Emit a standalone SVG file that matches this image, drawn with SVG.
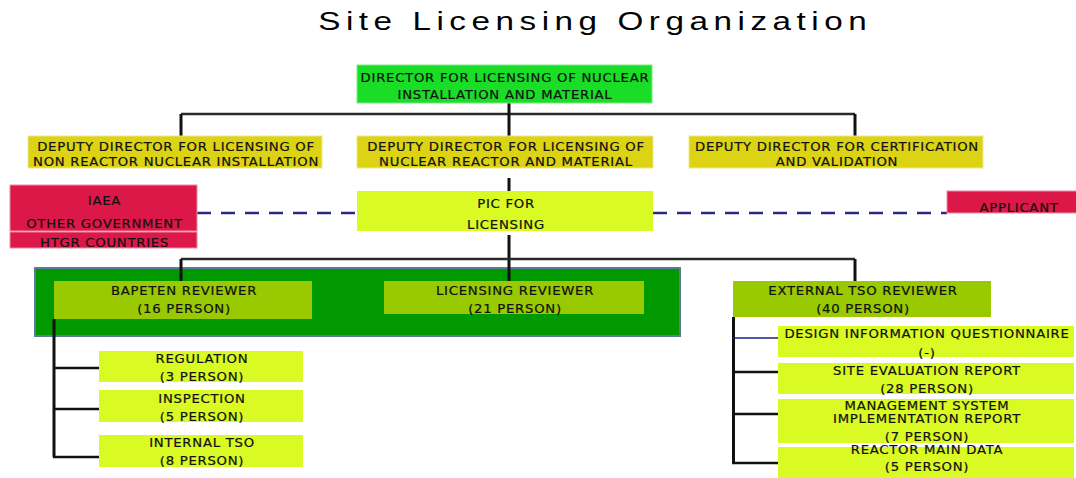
<svg xmlns="http://www.w3.org/2000/svg" width="1076" height="478" viewBox="0 0 1076 478">
<style>
.t{font-family:"DejaVu Sans",Verdana,sans-serif;font-size:11.5px;letter-spacing:0.65px;fill:#111;stroke:#111;stroke-width:0.2;text-anchor:middle}
.title{font-family:"Liberation Sans",Arial,sans-serif;font-size:25.6px;fill:#000;text-anchor:middle}
.dir{fill:#19DD26;stroke:#7ee985;stroke-width:1}
.dep{fill:#DCD314;stroke:#eee88a;stroke-width:1}
.pink{fill:#DC1848;stroke:#f08aa4;stroke-width:1}
.lime{fill:#D9FA22}
.rev{fill:#99C900}
.cont{fill:#009A00;stroke:#5B7C99;stroke-width:2}
.ln{stroke:#111;stroke-width:3;fill:none}
.hl{stroke:#2a2a2a;stroke-width:2.5;fill:none}
.br{stroke:#111;stroke-width:2.5;fill:none}
.dash{stroke:#2a2a80;stroke-width:2.5;stroke-dasharray:14 10;fill:none}
</style>
<rect width="1076" height="478" fill="#fff"/>
<text class="title" transform="translate(592.5,30) scale(1.3,1)" x="0" y="0" textLength="422" lengthAdjust="spacing">Site Licensing Organization</text>

<g id="container">
<rect class="cont" x="35" y="268" width="645" height="68"/>
</g>

<g id="connectors">
<path class="hl" d="M181 114 H855"/>
<path class="ln" d="M181 114 V136"/>
<path class="ln" d="M855 114 V136"/>
<path class="ln" d="M509 103 V136"/>
<path class="ln" d="M509 178 V191"/>
<path class="dash" d="M197 213 H357"/>
<path class="dash" d="M653 213 H947"/>
<path class="ln" d="M509 235 V281"/>
<path class="hl" d="M181 259 H855"/>
<path class="ln" d="M181 259 V281"/>
<path class="ln" d="M855 259 V281"/>
<path class="ln" d="M54 319 V457"/>
<path class="br" d="M54 368 H99"/>
<path class="br" d="M54 409 H99"/>
<path class="br" d="M53 457 H99"/>
<path class="ln" d="M733.5 317 V463"/>
<path stroke="#1a1a8a" stroke-width="1.5" fill="none" d="M733 338 H778"/>
<path class="br" d="M733 372 H778"/>
<path class="br" d="M733 414 H778"/>
<path class="br" d="M732 463 H778"/>
</g>

<g id="director">
<rect class="dir" x="357" y="65" width="295" height="38"/>
<text class="t" transform="translate(505,81.5) scale(1.15,1)">DIRECTOR FOR LICENSING OF NUCLEAR</text>
<text class="t" transform="translate(505,98.5) scale(1.15,1)">INSTALLATION AND MATERIAL</text>
</g>

<g id="deputy-non-reactor">
<rect class="dep" x="28" y="136" width="294" height="32"/>
<text class="t" transform="translate(176,151) scale(1.15,1)">DEPUTY DIRECTOR FOR LICENSING OF</text>
<text class="t" transform="translate(176,165.5) scale(1.15,1)">NON REACTOR NUCLEAR INSTALLATION</text>
</g>

<g id="deputy-reactor">
<rect class="dep" x="357" y="136" width="296" height="32"/>
<text class="t" transform="translate(506,151) scale(1.15,1)">DEPUTY DIRECTOR FOR LICENSING OF</text>
<text class="t" transform="translate(506,165.5) scale(1.15,1)">NUCLEAR REACTOR AND MATERIAL</text>
</g>

<g id="deputy-certification">
<rect class="dep" x="689" y="136" width="294" height="32"/>
<text class="t" transform="translate(837,151) scale(1.15,1)">DEPUTY DIRECTOR FOR CERTIFICATION</text>
<text class="t" transform="translate(837,165.5) scale(1.15,1)">AND VALIDATION</text>
</g>

<g id="iaea">
<rect class="pink" x="10" y="185" width="187" height="46"/>
<rect class="pink" x="10" y="232" width="187" height="16"/>
<text class="t" transform="translate(104.5,205) scale(1.15,1)">IAEA</text>
<text class="t" transform="translate(104.5,228) scale(1.15,1)">OTHER GOVERNMENT</text>
<text class="t" transform="translate(104.5,246.5) scale(1.15,1)">HTGR COUNTRIES</text>
</g>

<g id="pic">
<rect class="lime" x="357" y="191" width="296" height="40"/>
<text class="t" transform="translate(506,208) scale(1.15,1)">PIC FOR</text>
<text class="t" transform="translate(506,229) scale(1.15,1)">LICENSING</text>
</g>

<g id="applicant">
<rect class="pink" x="947" y="191" width="130" height="22"/>
<text class="t" transform="translate(1019,211.5) scale(1.15,1)">APPLICANT</text>
</g>

<g id="bapeten-reviewer">
<rect class="rev" x="54" y="281" width="258" height="38"/>
<text class="t" transform="translate(184,294.5) scale(1.15,1)">BAPETEN REVIEWER</text>
<text class="t" transform="translate(184,313) scale(1.15,1)">(16 PERSON)</text>
</g>

<g id="licensing-reviewer">
<rect class="rev" x="384" y="281" width="260" height="33"/>
<text class="t" transform="translate(515,294.5) scale(1.15,1)">LICENSING REVIEWER</text>
<text class="t" transform="translate(515,313) scale(1.15,1)">(21 PERSON)</text>
</g>

<g id="external-tso-reviewer">
<rect class="rev" x="733" y="281" width="258" height="36"/>
<text class="t" transform="translate(863,294.5) scale(1.15,1)">EXTERNAL TSO REVIEWER</text>
<text class="t" transform="translate(863,313) scale(1.15,1)">(40 PERSON)</text>
</g>

<g id="regulation">
<rect class="lime" x="99" y="351" width="204" height="31"/>
<text class="t" transform="translate(202,363) scale(1.15,1)">REGULATION</text>
<text class="t" transform="translate(202,381) scale(1.15,1)">(3 PERSON)</text>
</g>

<g id="inspection">
<rect class="lime" x="99" y="390" width="204" height="32"/>
<text class="t" transform="translate(202,403) scale(1.15,1)">INSPECTION</text>
<text class="t" transform="translate(202,421) scale(1.15,1)">(5 PERSON)</text>
</g>

<g id="internal-tso">
<rect class="lime" x="99" y="435" width="204" height="32"/>
<text class="t" transform="translate(202,447) scale(1.15,1)">INTERNAL TSO</text>
<text class="t" transform="translate(202,465) scale(1.15,1)">(8 PERSON)</text>
</g>

<g id="design-information">
<rect class="lime" x="778" y="326" width="296" height="31"/>
<text class="t" transform="translate(927,338) scale(1.15,1)">DESIGN INFORMATION QUESTIONNAIRE</text>
<text class="t" transform="translate(927,357) scale(1.15,1)">(-)</text>
</g>

<g id="site-evaluation">
<rect class="lime" x="778" y="363" width="296" height="31"/>
<text class="t" transform="translate(927,375) scale(1.15,1)">SITE EVALUATION REPORT</text>
<text class="t" transform="translate(927,393) scale(1.15,1)">(28 PERSON)</text>
</g>

<g id="management-system">
<rect class="lime" x="778" y="399" width="296" height="44"/>
<text class="t" transform="translate(927,410) scale(1.15,1)">MANAGEMENT SYSTEM</text>
<text class="t" transform="translate(927,423) scale(1.15,1)">IMPLEMENTATION REPORT</text>
<text class="t" transform="translate(927,440.5) scale(1.15,1)">(7 PERSON)</text>
</g>

<g id="reactor-main-data">
<rect class="lime" x="778" y="447" width="296" height="31"/>
<text class="t" transform="translate(927,453.5) scale(1.15,1)">REACTOR MAIN DATA</text>
<text class="t" transform="translate(927,471) scale(1.15,1)">(5 PERSON)</text>
</g>
</svg>
